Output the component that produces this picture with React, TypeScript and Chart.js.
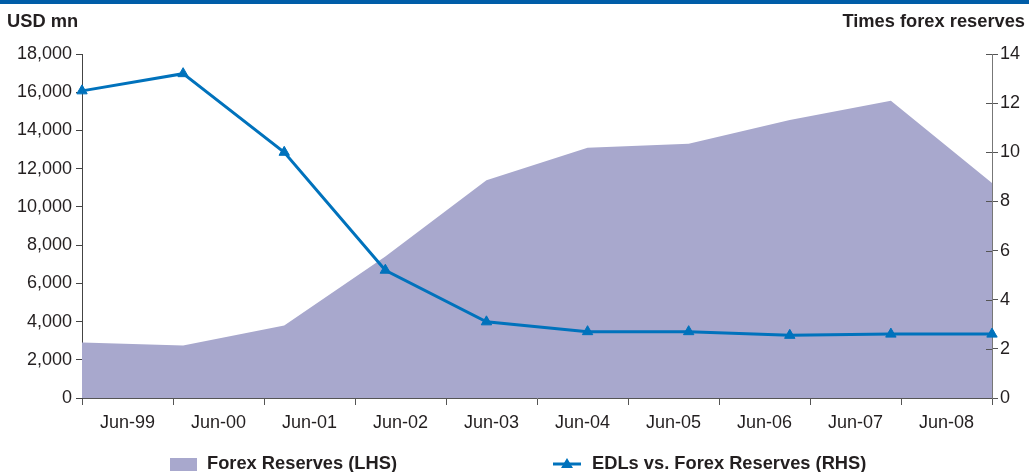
import React, { useEffect, useRef } from 'react';
import { Chart, registerables } from 'chart.js';

Chart.register(...registerables);

const categories = ['Jun-99', 'Jun-00', 'Jun-01', 'Jun-02', 'Jun-03', 'Jun-04', 'Jun-05', 'Jun-06', 'Jun-07', 'Jun-08'];
const forexReserves = [2900, 2750, 3800, 7400, 11400, 13100, 13300, 14550, 15550, 11250];
const edlRatio = [12.5, 13.2, 10.0, 5.2, 3.1, 2.7, 2.7, 2.55, 2.6, 2.6];
const leftTitle = 'USD mn';
const rightTitle = 'Times forex reserves';
const areaLabel = 'Forex Reserves (LHS)';
const lineLabel = 'EDLs vs. Forex Reserves (RHS)';

const FONT = '"Liberation Sans", Arial, Helvetica, sans-serif';
const AREA_COLOR = '#a8a8cd';
const LINE_COLOR = '#0072bc';
const TEXT_COLOR = '#231f20';
const BAR_COLOR = '#005da8';

const decorPlugin = {
  id: 'decor',
  afterDraw(chart: any) {
    const ctx = chart.ctx;
    ctx.save();
    // top bar
    ctx.fillStyle = BAR_COLOR;
    ctx.fillRect(0, 0, chart.width, 4);
    // titles
    ctx.fillStyle = TEXT_COLOR;
    ctx.font = `bold 18.3px ${FONT}`;
    ctx.textBaseline = 'alphabetic';
    ctx.textAlign = 'left';
    ctx.fillText(leftTitle, 7, 27);
    ctx.textAlign = 'right';
    ctx.fillText(rightTitle, 1025, 27);
    // inner half of right axis ticks
    const y1 = chart.scales.y1;
    ctx.strokeStyle = '#555';
    ctx.lineWidth = 1;
    y1.ticks.forEach((t: any) => {
      const py = Math.round(y1.getPixelForValue(t.value)) + 0.5;
      ctx.beginPath();
      ctx.moveTo(y1.left - 6, py);
      ctx.lineTo(y1.left, py);
      ctx.stroke();
    });
    // legend
    const ly = 464;
    ctx.fillStyle = AREA_COLOR;
    ctx.fillRect(170, 458, 27, 13);
    ctx.fillStyle = TEXT_COLOR;
    ctx.font = `bold 18.3px ${FONT}`;
    ctx.textAlign = 'left';
    ctx.textBaseline = 'middle';
    ctx.fillText(areaLabel, 207, ly);
    ctx.strokeStyle = LINE_COLOR;
    ctx.lineWidth = 3;
    ctx.beginPath();
    ctx.moveTo(553, ly);
    ctx.lineTo(581, ly);
    ctx.stroke();
    ctx.fillStyle = LINE_COLOR;
    ctx.beginPath();
    ctx.moveTo(567, ly - 6);
    ctx.lineTo(573, ly + 4);
    ctx.lineTo(561, ly + 4);
    ctx.closePath();
    ctx.fill();
    ctx.fillStyle = TEXT_COLOR;
    ctx.fillText(lineLabel, 592, ly);
    ctx.restore();
  },
};

export default function App() {
  const ref = useRef<HTMLCanvasElement | null>(null);
  useEffect(() => {
    document.body.style.margin = '0';
    if (!ref.current) return;
    const tickFont = { family: FONT, size: 18 };
    const chart = new Chart(ref.current, {
      type: 'line',
      data: {
        labels: categories,
        datasets: [
          {
            label: lineLabel,
            data: edlRatio,
            xAxisID: 'xd',
            yAxisID: 'y1',
            borderColor: LINE_COLOR,
            backgroundColor: LINE_COLOR,
            borderWidth: 3,
            pointStyle: 'triangle',
            pointRadius: 6,
            pointBorderWidth: 1,
            fill: false,
            tension: 0,
          },
          {
            label: areaLabel,
            data: forexReserves,
            xAxisID: 'xd',
            yAxisID: 'y',
            borderWidth: 0,
            borderColor: AREA_COLOR,
            backgroundColor: AREA_COLOR,
            pointRadius: 0,
            fill: 'origin',
            tension: 0,
          },
        ],
      },
      options: {
        responsive: false,
        animation: false,
        events: [],
        layout: { padding: { top: 54, left: 0, right: 0, bottom: 0 } },
        plugins: { legend: { display: false }, tooltip: { enabled: false } },
        scales: {
          x: {
            type: 'category',
            position: 'bottom',
            offset: true,
            grid: { offset: true, drawOnChartArea: false, tickLength: 7, color: '#555' },
            border: { color: '#555' },
            ticks: { font: tickFont, color: TEXT_COLOR, padding: 7, maxRotation: 0, autoSkip: false },
            afterFit: (s: any) => { s.height = 74; },
          },
          xd: {
            type: 'category',
            display: false,
            offset: false,
          },
          y: {
            position: 'left',
            min: 0,
            max: 18000,
            ticks: {
              stepSize: 2000,
              font: tickFont,
              color: TEXT_COLOR,
              padding: 4,
              callback: (v: any) => Number(v).toLocaleString('en-US'),
            },
            grid: { drawOnChartArea: false, tickLength: 6, color: '#444' },
            border: { color: '#444' },
            afterFit: (s: any) => { s.width = 82; },
          },
          y1: {
            position: 'right',
            min: 0,
            max: 14,
            ticks: { stepSize: 2, font: tickFont, color: TEXT_COLOR, padding: 2 },
            grid: { drawOnChartArea: false, tickLength: 6, color: '#555' },
            border: { color: '#777' },
            afterFit: (s: any) => { s.width = 37; },
          },
        },
      },
      plugins: [decorPlugin],
    });
    return () => chart.destroy();
  }, []);
  return <canvas ref={ref} width={1029} height={472} style={{ display: 'block' }} />;
}
